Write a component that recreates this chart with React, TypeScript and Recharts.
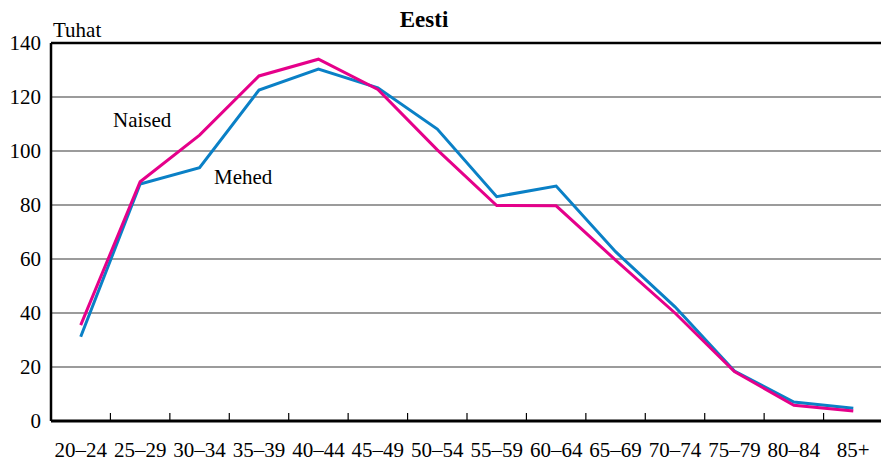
import { LineChart, Line, XAxis, YAxis, CartesianGrid, ReferenceLine } from "recharts";

const ageGroups = [
  "20–24", "25–29", "30–34", "35–39", "40–44", "45–49", "50–54",
  "55–59", "60–64", "65–69", "70–74", "75–79", "80–84", "85+",
];
const mehed = [31.2, 87.8, 93.8, 122.6, 130.3, 123.4, 108.1, 83.1, 87, 62.7, 42.3, 18.5, 7, 4.7];
const naised = [35.5, 88.6, 105.9, 127.8, 134, 122.8, 100.4, 79.8, 79.7, 59.6, 40, 18.3, 5.8, 3.7];
const yTicks = [0, 20, 40, 60, 80, 100, 120, 140];

const data = ageGroups.map((g, i) => ({ g, mehed: mehed[i], naised: naised[i] }));

const FONT = "Liberation Serif, Times New Roman, serif";
const txt = { fontFamily: FONT, fontSize: 21, fill: "#000" };
const CHART_W = 884;
const CHART_H = 466;
const Y_W = 51;
const M = { top: 43, right: 1, left: 0, bottom: 0 };
const X_H = 45;
const band = (CHART_W - Y_W - M.left - M.right) / ageGroups.length;

function AgeTick(props: any) {
  const { x, y, payload, index } = props;
  const last = index === ageGroups.length - 1;
  return (
    <g>
      {!last && (
        <line x1={x + band / 2} x2={x + band / 2} y1={y - 8} y2={y} stroke="#000" strokeWidth={1.2} />
      )}
      <text x={x} y={y + 36} textAnchor="middle" style={txt}>
        {payload.value}
      </text>
    </g>
  );
}

export default function App() {
  return (
    <div
      style={{
        position: "absolute",
        left: 0,
        top: 0,
        width: 881,
        height: 466,
        overflow: "hidden",
        background: "#fff",
        fontFamily: FONT,
      }}
    >
      <LineChart width={CHART_W} height={CHART_H} data={data} margin={M} style={{ fontFamily: FONT }}>
        <CartesianGrid vertical={false} stroke="#7a7a7a" strokeWidth={1.5} />
        <XAxis
          dataKey="g"
          scale="band"
          interval={0}
          height={X_H}
          tickSize={0}
          tickMargin={0}
          tickLine={false}
          axisLine={{ stroke: "#000", strokeWidth: 3 }}
          tick={<AgeTick />}
        />
        <YAxis
          domain={[0, 140]}
          ticks={yTicks}
          width={Y_W}
          tickSize={0}
          tickMargin={10}
          tickLine={false}
          axisLine={{ stroke: "#000", strokeWidth: 2.5 }}
          tick={{ style: txt, fontSize: 21, fill: "#000" }}
        />
        <ReferenceLine y={140} stroke="#000" strokeWidth={2.5} />
        <Line
          dataKey="mehed"
          stroke="#0a80c6"
          strokeWidth={3}
          dot={false}
          isAnimationActive={false}
        />
        <Line
          dataKey="naised"
          stroke="#e5008a"
          strokeWidth={3}
          dot={false}
          isAnimationActive={false}
        />
      </LineChart>
      <svg
        width={881}
        height={466}
        style={{ position: "absolute", left: 0, top: 0, pointerEvents: "none" }}
      >
        <text x={424} y={27} textAnchor="middle" style={{ ...txt, fontSize: 23, fontWeight: "bold" }}>
          Eesti
        </text>
        <text x={53} y={37} style={txt}>
          Tuhat
        </text>
        <text x={113} y={127} style={txt}>
          Naised
        </text>
        <text x={214} y={184} style={txt}>
          Mehed
        </text>
      </svg>
    </div>
  );
}
